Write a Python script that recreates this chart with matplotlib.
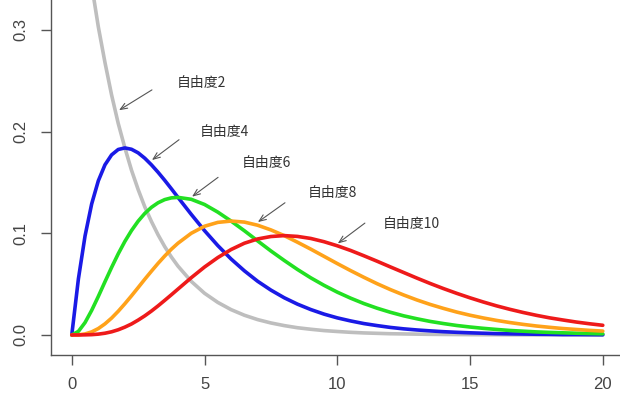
import matplotlib
matplotlib.use("Agg")
import matplotlib.pyplot as plt

plt.rcParams['font.family'] = ['Noto Sans CJK SC', 'DejaVu Sans']

# sample positions along the x axis
x = [0, 0.25, 0.5, 0.75, 1, 1.25, 1.5, 1.75, 2, 2.25, 2.5, 2.75, 3, 3.25, 3.5,
     3.75, 4, 4.5, 5, 5.5, 6, 6.5, 7, 7.5, 8, 8.5, 9, 9.5, 10, 10.5, 11, 11.5,
     12, 12.5, 13, 13.5, 14, 14.5, 15, 15.5, 16, 16.5, 17, 17.5, 18, 18.5, 19,
     19.5, 20]

# chi-square densities by degrees of freedom
df2 = [0.500, 0.441, 0.389, 0.344, 0.303, 0.268, 0.236, 0.208, 0.184, 0.162,
       0.143, 0.126, 0.1116, 0.0985, 0.0869, 0.0767, 0.0677, 0.0527, 0.0410,
       0.0320, 0.0249, 0.0194, 0.0151, 0.0118, 0.0092, 0.0071, 0.0056, 0.0043,
       0.0034, 0.0026, 0.0020, 0.0016, 0.0012, 0.0010, 0.0008, 0.0006, 0.0005,
       0.0004, 0.0003, 0.0002, 0.0002, 0.0001, 0.0001, 0.0001, 0.0001, 0.0000,
       0.0000, 0.0000, 0.0000]
df4 = [0.0, 0.0552, 0.0974, 0.1289, 0.1516, 0.1673, 0.1771, 0.1824, 0.1839,
       0.1826, 0.1791, 0.1738, 0.1673, 0.1600, 0.1521, 0.1438, 0.1353, 0.1186,
       0.1026, 0.0879, 0.0747, 0.0631, 0.0528, 0.0441, 0.0366, 0.0303, 0.0250,
       0.0205, 0.0168, 0.0138, 0.0112, 0.0092, 0.0074, 0.0060, 0.0049, 0.0040,
       0.0032, 0.0026, 0.0021, 0.0017, 0.0013, 0.0011, 0.0009, 0.0007, 0.0006,
       0.0004, 0.0004, 0.0003, 0.0002]
df6 = [0.0, 0.0035, 0.0122, 0.0242, 0.0379, 0.0523, 0.0664, 0.0798, 0.0920,
       0.1027, 0.1119, 0.1195, 0.1255, 0.1300, 0.1331, 0.1348, 0.1353, 0.1334,
       0.1283, 0.1208, 0.1120, 0.1025, 0.0925, 0.0826, 0.0733, 0.0644, 0.0562,
       0.0488, 0.0421, 0.0362, 0.0309, 0.0263, 0.0223, 0.0188, 0.0159, 0.0133,
       0.0112, 0.0093, 0.0078, 0.0065, 0.0054, 0.0044, 0.0037, 0.0030, 0.0025,
       0.0021, 0.0017, 0.0014, 0.0011]
df8 = [0.0, 0.0001, 0.0010, 0.0030, 0.0063, 0.0109, 0.0166, 0.0233, 0.0307,
       0.0385, 0.0466, 0.0548, 0.0627, 0.0704, 0.0776, 0.0843, 0.0902, 0.1000,
       0.1069, 0.1107, 0.1120, 0.1110, 0.1079, 0.1033, 0.0977, 0.0912, 0.0844,
       0.0773, 0.0702, 0.0633, 0.0567, 0.0504, 0.0446, 0.0393, 0.0344, 0.0300,
       0.0261, 0.0225, 0.0194, 0.0167, 0.0143, 0.0122, 0.0104, 0.0088, 0.0075,
       0.0063, 0.0054, 0.0045, 0.0038]
df10 = [0.0, 0.0000, 0.0001, 0.0003, 0.0008, 0.0017, 0.0031, 0.0051, 0.0077,
        0.0108, 0.0146, 0.0188, 0.0235, 0.0286, 0.0340, 0.0395, 0.0451, 0.0563,
        0.0668, 0.0761, 0.0840, 0.0902, 0.0944, 0.0968, 0.0977, 0.0969, 0.0949,
        0.0917, 0.0877, 0.0831, 0.0779, 0.0725, 0.0669, 0.0614, 0.0559, 0.0506,
        0.0456, 0.0409, 0.0365, 0.0324, 0.0286, 0.0252, 0.0221, 0.0193, 0.0168,
        0.0147, 0.0127, 0.0110, 0.0095]

series = [df2, df4, df6, df8, df10]
colors = ['#bebebe', '#1a1ae6', '#22e022', '#ffa21a', '#ee1a1a']
labels = ['自由度2', '自由度4', '自由度6', '自由度8', '自由度10']

# annotation arrows (start, tip) and label anchors
arrow_start = [(3.02, 0.241), (4.04, 0.192), (5.51, 0.155), (8.03, 0.130), (11.04, 0.110)]
arrow_tip = [(1.78, 0.221), (3.02, 0.172), (4.53, 0.136), (7.01, 0.111), (10.02, 0.090)]
label_pos = [(3.97, 0.248), (4.83, 0.200), (6.41, 0.169), (8.89, 0.140), (11.72, 0.109)]

xticks = [0, 5, 10, 15, 20]
yticks = [0.0, 0.1, 0.2, 0.3]

fig = plt.figure(figsize=(6.2, 4.05), dpi=100)
ax = fig.add_axes([0.0815, 0.1235, 0.925, 0.8765])

for ys, c in zip(series, colors):
    ax.plot(x, ys, color=c, lw=2.6, solid_capstyle='round', solid_joinstyle='round')

for s, t, p, lab in zip(arrow_start, arrow_tip, label_pos, labels):
    ax.annotate('', xy=t, xytext=s,
                arrowprops=dict(arrowstyle='->,head_length=0.5,head_width=0.2',
                                color='#555555', lw=0.8, shrinkA=0, shrinkB=0))
    ax.text(p[0], p[1], lab, fontsize=10, color='#333333', ha='left', va='center')

ax.set_xlim(-0.8, 20.8)
ax.set_ylim(-0.0197, 0.3294)
ax.set_xticks(xticks)
ax.set_xticklabels([str(v) for v in xticks], family=['Liberation Sans'])
ax.set_yticks(yticks)
ax.set_yticklabels(['0.0', '0.1', '0.2', '0.3'], rotation=90, va='center',
                   family=['Liberation Sans'])

for side in ['top', 'right']:
    ax.spines[side].set_visible(False)
for side in ['left', 'bottom']:
    ax.spines[side].set_color('#555555')
    ax.spines[side].set_linewidth(1.0)

ax.tick_params(axis='both', direction='out', length=7, width=1.0,
               color='#555555', labelcolor='#444444', labelsize=12, pad=9)

fig.savefig('out.png', dpi=100)
